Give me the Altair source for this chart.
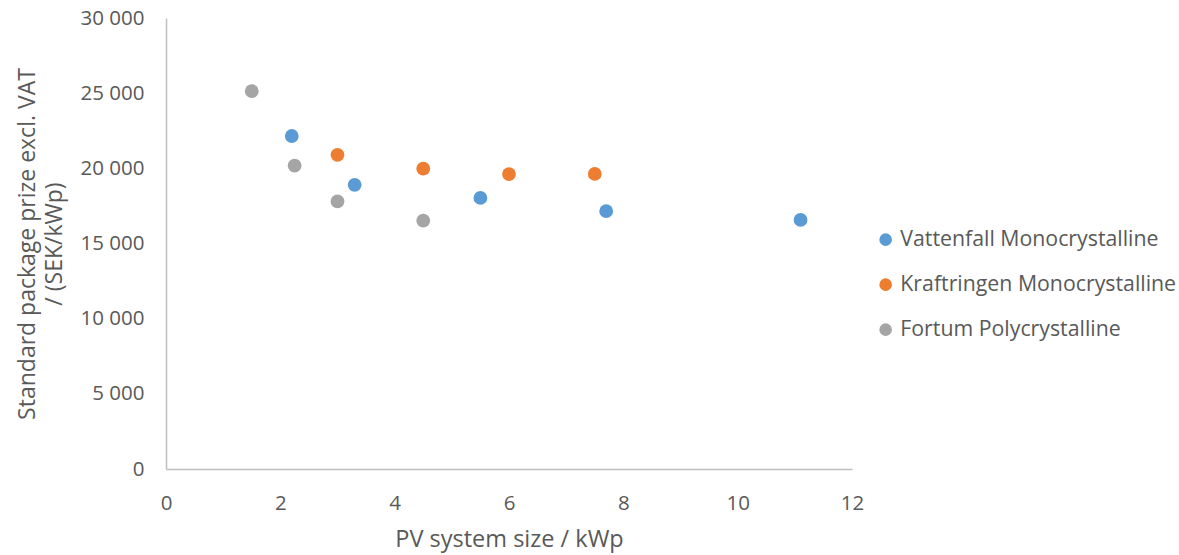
import altair as alt
import pandas as pd

series_names = ["Vattenfall Monocrystalline", "Kraftringen Monocrystalline", "Fortum Polycrystalline"]
colors = ["#5B9BD5", "#ED7D31", "#A5A5A5"]

vattenfall_x = [2.2, 3.3, 5.5, 7.7, 11.1]
vattenfall_y = [22150, 18900, 18030, 17150, 16570]
kraftringen_x = [3.0, 4.5, 6.0, 7.5]
kraftringen_y = [20900, 19980, 19620, 19630]
fortum_x = [1.5, 2.25, 3.0, 4.5]
fortum_y = [25130, 20180, 17800, 16520]

rows = []
for name, xs, ys in [
    (series_names[0], vattenfall_x, vattenfall_y),
    (series_names[1], kraftringen_x, kraftringen_y),
    (series_names[2], fortum_x, fortum_y),
]:
    for x, y in zip(xs, ys):
        rows.append({"series": name, "size": x, "price": y})
df = pd.DataFrame(rows)

FONT = "Open Sans"
TXT = "#595959"

chart = alt.Chart(df).mark_circle(size=190, opacity=1).encode(
    x=alt.X("size:Q",
            scale=alt.Scale(domain=[0, 12], nice=False, zero=True),
            axis=alt.Axis(values=[0, 2, 4, 6, 8, 10, 12], title="PV system size / kWp",
                          grid=False, ticks=False, domainColor="#BFBFBF", domainWidth=1.5,
                          labelFlush=False, labelOverlap=False,
                          labelFont=FONT, labelFontSize=20.5, labelColor=TXT, labelPadding=24,
                          titleFont=FONT, titleFontSize=23.5, titleColor=TXT, titleFontWeight="normal",
                          titlePadding=14)),
    y=alt.Y("price:Q",
            scale=alt.Scale(domain=[0, 30000], nice=False),
            axis=alt.Axis(values=[0, 5000, 10000, 15000, 20000, 25000, 30000],
                          labelExpr="replace(format(datum.value, ','), /,/g, ' ')",
                          title=["Standard package prize excl. VAT", "/ (SEK/kWp)"],
                          grid=False, ticks=False, domainColor="#BFBFBF", domainWidth=1.5,
                          labelFlush=False, labelOverlap=False,
                          labelFont=FONT, labelFontSize=20.5, labelColor=TXT, labelPadding=22,
                          titleFont=FONT, titleFontSize=23, titleColor=TXT, titleFontWeight="normal",
                          titlePadding=14, titleLineHeight=27)),
    color=alt.Color("series:N",
                    scale=alt.Scale(domain=series_names, range=colors),
                    legend=alt.Legend(title=None, orient="none", legendX=709, legendY=211,
                                      symbolType="circle", symbolSize=160, symbolOpacity=1,
                                      labelFont=FONT, labelFontSize=21.3, labelColor=TXT,
                                      rowPadding=23, labelOffset=4, labelLimit=400)),
).properties(
    width=686, height=451,
    padding={"left": 166, "top": 18, "right": 327, "bottom": 86},
    autosize=alt.AutoSizeParams(type="none"),
    background="white",
).configure_view(stroke=None)

chart.save("out.html", embed_options={"renderer": "svg", "actions": False})
